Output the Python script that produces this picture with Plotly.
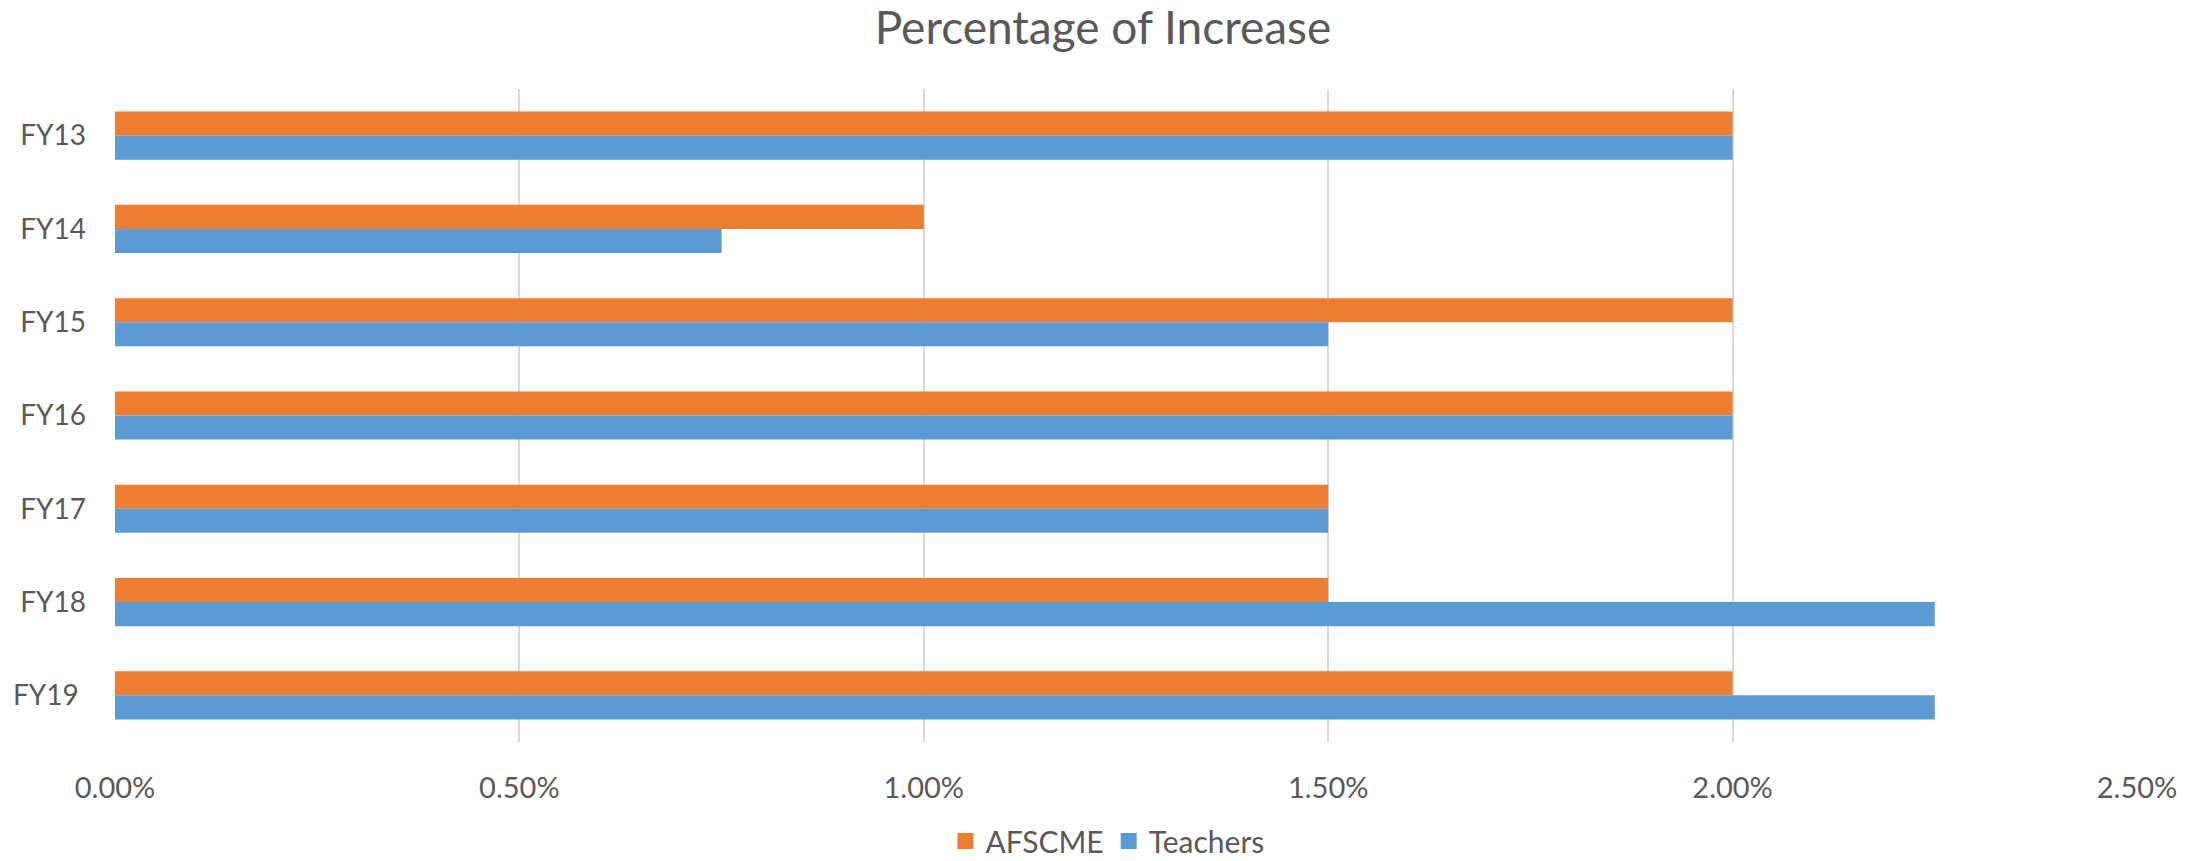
import plotly.graph_objects as go

# Fiscal years shown on the category axis (top to bottom)
years = ["FY13", "FY14", "FY15", "FY16", "FY17", "FY18", "FY19\u00a0"]

# Annual percentage increase by bargaining group
afscme = [0.02, 0.01, 0.02, 0.02, 0.015, 0.015, 0.02]
teachers = [0.02, 0.0075, 0.015, 0.02, 0.015, 0.0225, 0.0225]

x_ticks = [0.0, 0.005, 0.01, 0.015, 0.02, 0.025]

ORANGE = "#ED7D31"
BLUE = "#5B9BD5"
TEXT = "#595959"
GRID = "#D9D9D9"
FONT = "Lato, 'Open Sans', sans-serif"

series = [("AFSCME", afscme, ORANGE), ("Teachers", teachers, BLUE)]

fig = go.Figure()
for name, values, color in series:
    fig.add_trace(go.Bar(
        y=years, x=values, name=name, orientation="h",
        legendgroup=name, showlegend=False,
        marker=dict(color=color, line=dict(width=0)),
    ))
# Legend keys drawn as larger square swatches
for name, values, color in series:
    fig.add_trace(go.Scatter(
        x=[None], y=[None], name=name, mode="markers",
        legendgroup=name, showlegend=True,
        marker=dict(symbol="square", size=18, color=color),
    ))

fig.update_layout(
    width=2206, height=861,
    margin=dict(l=115, r=69, t=89, b=119),
    paper_bgcolor="white", plot_bgcolor="white",
    barmode="group", bargap=0.484, bargroupgap=0,
    font=dict(family=FONT, color=TEXT, size=29),
    title=dict(
        text="Percentage of Increase",
        x=0.5, xref="container", xanchor="center",
        y=1 - 28 / 861, yref="container", yanchor="middle",
        font=dict(family=FONT, size=46, color=TEXT),
    ),
    legend=dict(
        orientation="h", traceorder="normal",
        x=0.502, xref="container", xanchor="center",
        y=1 - 841 / 861, yref="container", yanchor="middle",
        font=dict(family=FONT, size=30, color=TEXT),
        itemwidth=30,
    ),
    showlegend=True,
)

fig.update_xaxes(
    range=[0, 0.025],
    tickvals=x_ticks, tickformat=".2%",
    showgrid=True, gridcolor=GRID, gridwidth=2,
    zeroline=False, showline=False, automargin=False,
    ticks="", ticklabelstandoff=26,
    tickfont=dict(family=FONT, size=29, color=TEXT),
)
fig.update_yaxes(
    autorange="reversed", automargin=False,
    showgrid=False, zeroline=False, showline=False,
    ticks="", ticklabelstandoff=28,
    tickfont=dict(family=FONT, size=28, color=TEXT),
)

fig.write_html("out.html")
